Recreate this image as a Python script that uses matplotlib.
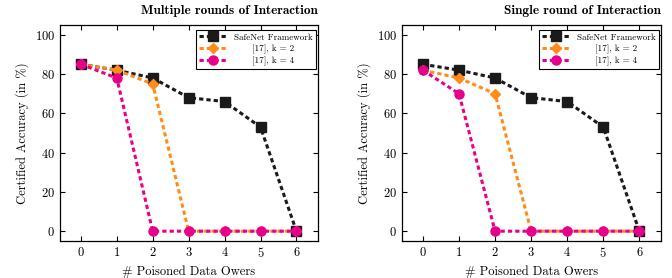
import matplotlib
matplotlib.use("Agg")
import matplotlib.pyplot as plt

# poisoned owners on the x axis
owners = [0, 1, 2, 3, 4, 5, 6]

# Multiple rounds of interaction
multi_safenet = [85, 82, 78, 68, 66, 53, 0]
multi_k2 = [85, 82, 75, 0, 0, 0, 0]
multi_k4 = [85, 78, 0, 0, 0, 0, 0]

# Single round of interaction
single_safenet = [85, 82, 78, 68, 66, 53, 0]
single_k2 = [82, 78, 70, 0, 0, 0, 0]
single_k4 = [82, 70, 0, 0, 0, 0, 0]

titles = ["Multiple rounds of Interaction", "Single round of Interaction"]
labels = ["SafeNet Framework", "      [17], k = 2", "      [17], k = 4"]

matplotlib.rcParams.update({
    "font.family": "serif",
    "font.serif": ["cmr10", "DejaVu Serif"],
    "mathtext.fontset": "cm",
    "axes.formatter.use_mathtext": True,
    "font.size": 8,
    "axes.linewidth": 0.9,
    "xtick.direction": "in", "ytick.direction": "in",
    "xtick.top": True, "ytick.right": True,
    "xtick.major.size": 3.5, "ytick.major.size": 3.5,
})

BLACK, ORANGE, PINK = "#1a1a1a", "#ff8c1a", "#e6008a"
DOTS = (0, (1.4, 1.0))

fig = plt.figure(figsize=(6.72, 2.78), dpi=100)
axes = [fig.add_axes([60 / 672, 37 / 278, 258 / 672, 216 / 278]),
        fig.add_axes([402 / 672, 37 / 278, 259 / 672, 216 / 278])]

data = [(multi_safenet, multi_k2, multi_k4), (single_safenet, single_k2, single_k4)]

for ax, title, (sn, k2, k4) in zip(axes, titles, data):
    ax.plot(owners, sn, color=BLACK, ls=DOTS, lw=2.2, marker="s", ms=6.5,
            label=labels[0])
    ax.plot(owners, k2, color=ORANGE, ls=DOTS, lw=2.2, marker="D", ms=5.5,
            label=labels[1])
    ax.plot(owners, k4, color=PINK, ls=DOTS, lw=2.2, marker="o", ms=6.5,
            label=labels[2])
    ax.set_xlim(-0.58, 6.6)
    ax.set_ylim(-5, 105)
    ax.set_xticks(owners)
    ax.set_yticks([0, 20, 40, 60, 80, 100])
    ax.set_xlabel("# Poisoned Data Owers", fontsize=9)
    ax.set_ylabel("Certified Accuracy (in %)", fontsize=9)
    ax.set_title(title, loc="right", fontsize=9.5, family=["cmb10", "DejaVu Serif"],
                 pad=8)
    ax.tick_params(labelsize=9)
    leg = ax.legend(loc="upper right", bbox_to_anchor=(1.01, 1.0), fontsize=6.5,
                    fancybox=False, edgecolor="black", framealpha=1,
                    handlelength=3, borderpad=0.4, labelspacing=0.3)
    leg.get_frame().set_linewidth(0.8)

fig.savefig("out.png", dpi=100)
